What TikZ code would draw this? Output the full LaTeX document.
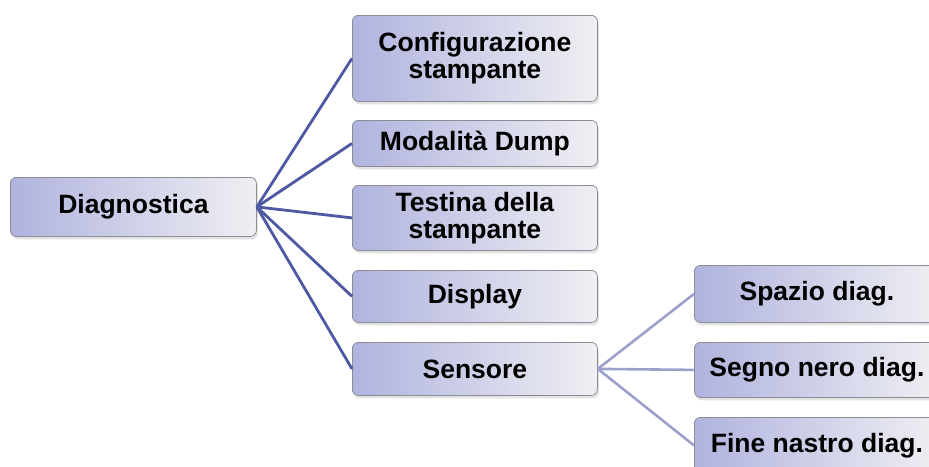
\documentclass[tikz,border=0pt]{standalone}
\usepackage{fontspec}
\setmainfont{Liberation Sans}
\usetikzlibrary{shadows}
\definecolor{lineA}{HTML}{4F58A3}
\definecolor{lineB}{HTML}{9CA1CC}
\definecolor{boxL}{HTML}{B0B3DE}
\definecolor{boxR}{HTML}{EFEFF3}
\definecolor{boxD}{HTML}{8C8C96}
\begin{document}
\begin{tikzpicture}[x=1pt,y=-1pt,
  box/.style={draw=boxD, line width=0.8pt, rounded corners=6pt,
    left color=boxL, right color=boxR,
    drop shadow={shadow xshift=1.5pt, shadow yshift=-3pt, opacity=0.22},
    anchor=north west, minimum width=245pt, align=center, inner sep=0pt,
    font=\bfseries\fontsize{26.5}{27}\selectfont, text=black},
  linkA/.style={draw=lineA, line width=2.8pt},
  linkB/.style={draw=lineB, line width=2.6pt}]
\useasboundingbox (0,0) rectangle (929,466);
\node[box, minimum width=246pt, minimum height=59pt] (diag) at (10,177) {Diagnostica};
\node[box, minimum height=86pt] (conf) at (352,15) {Configurazione\\stampante};
\node[box, minimum height=46pt] (mod) at (352,120) {Modalità Dump};
\node[box, minimum height=65pt] (test) at (352,185) {Testina della\\stampante};
\node[box, minimum height=52pt] (disp) at (352,270) {Display};
\node[box, minimum height=53pt] (sens) at (352,342) {Sensore};
\node[box, minimum height=57pt] (spaz) at (694,265) {Spazio diag.};
\node[box, minimum height=55pt] (segno) at (694,342) {Segno nero diag.};
\node[box, minimum height=56pt] (fine) at (694,417) {Fine nastro diag.};
\draw[linkA] (diag.east) -- (conf.west);
\draw[linkA] (diag.east) -- (mod.west);
\draw[linkA] (diag.east) -- (test.west);
\draw[linkA] (diag.east) -- (disp.west);
\draw[linkA] (diag.east) -- (sens.west);
\draw[linkB] (sens.east) -- (spaz.west);
\draw[linkB] (sens.east) -- (segno.west);
\draw[linkB] (sens.east) -- (fine.west);
\end{tikzpicture}
\end{document}
